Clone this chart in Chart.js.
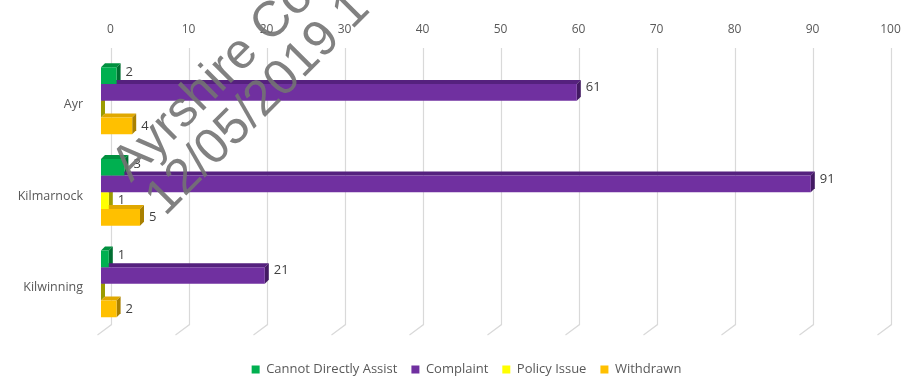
<!DOCTYPE html>
<html>
<head>
<meta charset="utf-8">
<script src="https://cdn.jsdelivr.net/npm/chart.js@4/dist/chart.umd.min.js"></script>
<style>
  html, body { margin: 0; padding: 0; background: #fff; }
  #wrap { width: 912px; height: 378px; position: relative; }
</style>
</head>
<body>
<div id="wrap"><canvas id="officeChart"></canvas></div>
<script>
// Cases by office
const offices = ['Ayr', 'Kilmarnock', 'Kilwinning'];
const cannotAssist = [2, 3, 1];
const complaint = [61, 91, 21];
const policyIssue = [0, 1, 0];
const withdrawn = [4, 5, 2];
const axisMin = 0;
const axisMax = 100;
const axisStep = 10;

const FONT = "'Open Sans', 'Liberation Sans', sans-serif";
const DEPTH = 4;       // visible thickness of the bar top / side faces
const BACK_DX = 9.5;   // gridlines sit on the back wall, a bit right of the bars
const LEGEND_SHIFT = 26;

// front colour, top face, side face
const palette = {
  green:  ['#00B050', '#00903f', '#006f31'],
  purple: ['#7030A0', '#55217e', '#431a63'],
  yellow: ['#FFFF00', '#d6d600', '#9c9c00'],
  orange: ['#FFC000', '#e0a800', '#a98000']
};

const backWall = {
  id: 'backWall',
  beforeDatasetsDraw(chart) {
    const { ctx, chartArea, scales: { x } } = chart;
    ctx.save();
    ctx.strokeStyle = '#d9d9d9';
    ctx.lineWidth = 1.2;
    x.ticks.forEach(t => {
      const px = Math.round(x.getPixelForValue(t.value) + BACK_DX) + 0.5;
      ctx.beginPath();
      ctx.moveTo(px, chartArea.top - 7);
      ctx.lineTo(px, chartArea.bottom - 5);
      ctx.lineTo(px - 14, chartArea.bottom + 5.5);
      ctx.stroke();
    });
    ctx.restore();
  }
};

// top and right faces, painted before the library fills the front faces
const extrude = {
  id: 'extrude',
  beforeDatasetsDraw(chart) {
    const ctx = chart.ctx;
    ctx.save();
    chart.data.datasets.forEach((ds, i) => {
      const meta = chart.getDatasetMeta(i);
      meta.data.forEach(bar => {
        const { x, y, base, height } = bar.getProps(['x', 'y', 'base', 'height'], true);
        const top = y - height / 2, bottom = y + height / 2;
        const left = Math.min(x, base), right = Math.max(x, base);
        ctx.fillStyle = ds.topColor;
        ctx.beginPath();
        ctx.moveTo(left, top);
        ctx.lineTo(left + DEPTH, top - DEPTH);
        ctx.lineTo(right + DEPTH, top - DEPTH);
        ctx.lineTo(right, top);
        ctx.closePath();
        ctx.fill();
        ctx.fillStyle = ds.sideColor;
        ctx.beginPath();
        ctx.moveTo(right, top);
        ctx.lineTo(right + DEPTH, top - DEPTH);
        ctx.lineTo(right + DEPTH, bottom - DEPTH);
        ctx.lineTo(right, bottom);
        ctx.closePath();
        ctx.fill();
      });
    });
    ctx.restore();
  }
};

const valueLabels = {
  id: 'valueLabels',
  afterDatasetsDraw(chart) {
    const ctx = chart.ctx;
    ctx.save();
    ctx.font = '13px ' + FONT;
    ctx.fillStyle = '#404040';
    ctx.textAlign = 'left';
    ctx.textBaseline = 'middle';
    chart.data.datasets.forEach((ds, i) => {
      chart.getDatasetMeta(i).data.forEach((bar, j) => {
        const v = ds.data[j];
        if (!v) return;
        ctx.fillText(String(v), bar.x + DEPTH + 5, bar.y + ds.labelDy);
      });
    });
    ctx.restore();
  }
};

// legend sits a little right of the canvas centre
const legendNudge = {
  id: 'legendNudge',
  afterLayout(chart) {
    chart.legend.left += LEGEND_SHIFT;
    chart.legend.right += LEGEND_SHIFT;
  }
};

const stamp = {
  id: 'stamp',
  afterDraw(chart) {
    const ctx = chart.ctx;
    ctx.save();
    ctx.fillStyle = 'rgba(115,115,115,0.9)';
    ctx.font = "50px 'Liberation Sans', Arial, sans-serif";
    ctx.textBaseline = 'alphabetic';
    ctx.translate(131, 183);
    ctx.rotate(-45 * Math.PI / 180);
    ctx.fillText('Ayrshire Cou', 0, 0);
    ctx.fillText('12/05/2019 1', 0, 48);
    ctx.restore();
  }
};

function series(label, data, c, labelDy) {
  return {
    label: label,
    data: data,
    backgroundColor: c[0],
    borderWidth: 0,
    topColor: c[1],
    sideColor: c[2],
    labelDy: labelDy,
    categoryPercentage: 0.73,
    barPercentage: 1
  };
}

new Chart(document.getElementById('officeChart'), {
  type: 'bar',
  data: {
    labels: offices,
    datasets: [
      series('Cannot Directly Assist', cannotAssist, palette.green, -3),
      series('Complaint', complaint, palette.purple, -5),
      series('Policy Issue', policyIssue, palette.yellow, 0),
      series('Withdrawn', withdrawn, palette.orange, 0)
    ]
  },
  options: {
    indexAxis: 'y',
    responsive: true,
    maintainAspectRatio: false,
    animation: false,
    layout: { padding: { top: 0, right: 31, bottom: -8, left: 0 } },
    plugins: {
      legend: {
        position: 'bottom',
        title: { display: true, text: '', padding: { top: 0, bottom: 5 } },
        labels: {
          boxWidth: 8,
          boxHeight: 8,
          padding: 14,
          color: '#595959',
          font: { family: FONT, size: 13 }
        }
      },
      tooltip: { enabled: false }
    },
    scales: {
      x: {
        position: 'top',
        min: axisMin,
        max: axisMax,
        grid: { display: false, drawTicks: false },
        border: { display: false },
        ticks: {
          stepSize: axisStep,
          labelOffset: BACK_DX,
          padding: 18,
          color: '#595959',
          font: { family: FONT, size: 12 }
        },
        afterFit(scale) { scale.height = 55; }
      },
      y: {
        grid: { display: false, drawTicks: false },
        border: { display: false },
        ticks: {
          labelOffset: 4,
          padding: 18,
          color: '#595959',
          font: { family: FONT, size: 12.5 }
        },
        afterFit(scale) { scale.width = 101; }
      }
    }
  },
  plugins: [backWall, extrude, valueLabels, legendNudge, stamp]
});
</script>
</body>
</html>
